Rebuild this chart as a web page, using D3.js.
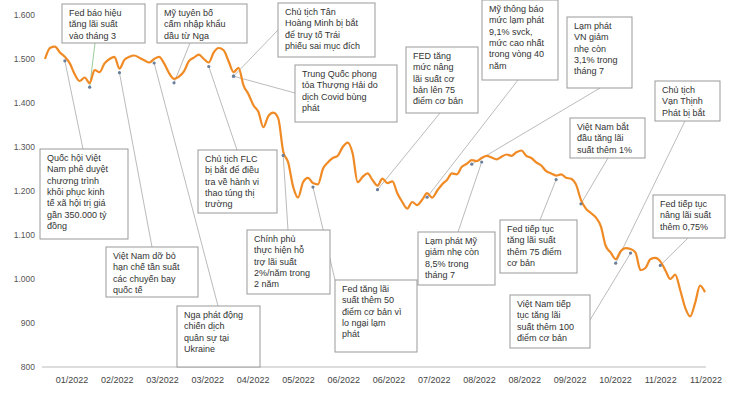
<!DOCTYPE html>
<html>
<head>
<meta charset="utf-8">
<script src="https://cdn.jsdelivr.net/npm/d3@7"></script>
<style>
  body { margin: 0; background: #fff; }
  text { font-family: "Liberation Sans", Arial, sans-serif; }
</style>
</head>
<body>
<svg id="chart" width="740" height="407"></svg>
<script>
// VN-Index 2022, one value per ~3 trading days
var indexValues = [
  1500, 1525, 1528, 1515, 1505, 1490, 1465, 1450, 1458, 1445, 1475, 1470, 1490, 1500, 1505, 1478,
  1498, 1505, 1508, 1503, 1497, 1492, 1500, 1505, 1490, 1468, 1455, 1460, 1472, 1495, 1503, 1510,
  1500, 1492, 1515, 1525, 1520, 1495, 1470, 1480, 1440, 1420, 1395, 1380, 1345, 1370, 1378, 1365,
  1290, 1265, 1210, 1185, 1220, 1230, 1218, 1215, 1250, 1265, 1275, 1280, 1300, 1310, 1285, 1220,
  1232, 1240, 1225, 1212, 1228, 1218, 1222, 1195, 1175, 1160, 1175, 1168, 1180, 1195, 1185, 1200,
  1215, 1225, 1240, 1238, 1255, 1262, 1270, 1268, 1275, 1280, 1276, 1272, 1278, 1283, 1280, 1288,
  1292, 1280, 1275, 1265, 1258, 1245, 1240, 1235, 1238, 1230, 1228, 1215, 1180, 1160, 1150, 1140,
  1120, 1075, 1060, 1045, 1063, 1070, 1068, 1060, 1020, 1025, 1045, 1048, 1040, 1020, 1000, 1010,
  975, 935, 915, 945, 985, 970
];
var yTicks = [800, 900, 1000, 1100, 1200, 1300, 1400, 1500, 1600];
var xTickLabels = ["01/2022", "02/2022", "03/2022", "03/2022", "04/2022", "05/2022", "06/2022", "06/2022",
  "07/2022", "08/2022", "08/2022", "09/2022", "10/2022", "11/2022", "11/2022"];

// notes: text lines, series index of the event, box [x, y, w, h], leader start [x, y]
var notes = [
  { t: ["Fed báo hiệu", "tăng lãi suất", "vào tháng 3"], i: 9, box: [62, 4, 83, 39], from: [95, 43], c: "#9c9" },
  { t: ["Mỹ tuyên bố", "cấm nhập khẩu", "dầu từ Nga"], i: 26, box: [157, 4, 90, 39], from: [190, 43] },
  { t: ["Chủ tịch Tân", "Hoàng Minh bị bắt", "để truy tố Trái", "phiếu sai mục đích"], i: 38, box: [278, 3, 97, 54], from: [278, 30] },
  { t: ["Trung Quốc phong", "tỏa Thượng Hải do", "dịch Covid bùng", "phát"], i: 38, box: [295, 65, 102, 57], from: [295, 93] },
  { t: ["FED tăng", "mức nâng", "lãi suất cơ", "bản lên 75", "điểm cơ bản"], i: 67, box: [406, 47, 72, 66], from: [440, 113] },
  { t: ["Mỹ thông báo", "mức lạm phát", "9,1% svck,", "mức cao nhất", "trong vòng 40", "năm"], i: 77, box: [482, 0, 76, 80], from: [518, 80] },
  { t: ["Lạm phát", "VN giảm", "nhẹ còn", "3,1% trong", "tháng 7"], i: 86, box: [567, 17, 65, 71], from: [600, 88] },
  { t: ["Chủ tịch", "Vạn Thịnh", "Phát bị bắt"], i: 115, box: [655, 81, 65, 40], from: [685, 121] },
  { t: ["Việt Nam bắt", "đầu tăng lãi", "suất thêm 1%"], i: 108, box: [570, 118, 75, 40], from: [608, 158] },
  { t: ["Fed tiếp tục", "nâng lãi suất", "thêm 0,75%"], i: 124, box: [653, 195, 72, 43], from: [688, 238] },
  { t: ["Việt Nam tiếp", "tục tăng lãi", "suất thêm 100", "điểm cơ bản"], i: 118, box: [510, 295, 80, 53], from: [590, 320] },
  { t: ["Fed tiếp tục", "tăng lãi suất", "thêm 75 điểm", "cơ bản"], i: 103, box: [500, 220, 77, 53], from: [540, 220] },
  { t: ["Lạm phát Mỹ", "giảm nhẹ còn", "8,5% trong", "tháng 7"], i: 88, box: [418, 232, 77, 53], from: [458, 232] },
  { t: ["Fed tăng lãi", "suất thêm 50", "điểm cơ bản vì", "lo ngại lạm", "phát"], i: 54, box: [335, 280, 82, 72], from: [335, 280] },
  { t: ["Chính phủ", "thực hiện hỗ", "trợ lãi suất", "2%/năm trong", "2 năm"], i: 48, box: [247, 230, 83, 64], from: [288, 230] },
  { t: ["Chủ tịch FLC", "bị bắt để điều", "tra về hành vi", "thao túng thị", "trường"], i: 33, box: [198, 150, 79, 63], from: [237, 150] },
  { t: ["Quốc hội Việt", "Nam phê duyệt", "chương trình", "khôi phục kinh", "tế xã hội trị giá", "gần 350.000 tỷ", "đồng"], i: 4, box: [40, 149, 88, 90], from: [83, 149] },
  { t: ["Việt Nam dỡ bỏ", "hạn chế tần suất", "các chuyến bay", "quốc tế"], i: 15, box: [106, 247, 92, 50], from: [152, 247] },
  { t: ["Nga phát động", "chiến dịch", "quân sự tại", "Ukraine"], i: 22, box: [177, 306, 83, 61], from: [218, 306] }
];

var svg = d3.select("#chart");
var x = d3.scaleLinear().domain([0, indexValues.length - 1]).range([45, 705]);
var y = d3.scaleLinear().domain([800, 1600]).range([367, 15]);
var xt = d3.scalePoint().domain(d3.range(xTickLabels.length)).range([72, 706]);

svg.append("line").attr("x1", 42).attr("x2", 706).attr("y1", y(800)).attr("y2", y(800))
  .attr("stroke", "#ddd").attr("stroke-width", 2);

svg.selectAll("text.ytick").data(yTicks).join("text").attr("class", "ytick")
  .attr("x", 35).attr("y", function (d) { return y(d) + 3; })
  .attr("text-anchor", "end").attr("font-size", 8.5).attr("fill", "#555")
  .text(function (d) { return d3.format(",")(d).replace(",", "."); });

svg.selectAll("text.xtick").data(xTickLabels).join("text").attr("class", "xtick")
  .attr("x", function (d, i) { return xt(i); }).attr("y", 383)
  .attr("text-anchor", "middle").attr("font-size", 9).attr("fill", "#444")
  .text(function (d) { return d; });

// leader lines under the series
svg.selectAll("line.leader").data(notes).join("line").attr("class", "leader")
  .attr("x1", function (d) { return d.from[0]; }).attr("y1", function (d) { return d.from[1]; })
  .attr("x2", function (d) { return x(d.i); }).attr("y2", function (d) { return y(indexValues[d.i]) + 4; })
  .attr("stroke", function (d) { return d.c || "#bbb"; }).attr("stroke-width", 1);

svg.append("path").datum(indexValues)
  .attr("d", d3.line().x(function (d, i) { return x(i); }).y(function (d) { return y(d); }).curve(d3.curveMonotoneX))
  .attr("fill", "none").attr("stroke", "#F08A24").attr("stroke-width", 2.2);

svg.selectAll("circle.pt").data(notes).join("circle").attr("class", "pt")
  .attr("cx", function (d) { return x(d.i); }).attr("cy", function (d) { return y(indexValues[d.i]) + 4; })
  .attr("r", 1.6).attr("fill", "#6a7f9a");

var g = svg.selectAll("g.note").data(notes).join("g").attr("class", "note");
g.append("rect")
  .attr("x", function (d) { return d.box[0]; }).attr("y", function (d) { return d.box[1]; })
  .attr("width", function (d) { return d.box[2]; }).attr("height", function (d) { return d.box[3]; })
  .attr("fill", "#fff").attr("stroke", "#999").attr("stroke-width", 1);
g.each(function (d) {
  d3.select(this).selectAll("text").data(d.t).join("text")
    .attr("x", d.box[0] + 7).attr("y", function (s, k) { return d.box[1] + 12 + k * 11.3; })
    .attr("font-size", 9).attr("fill", "#333").text(function (s) { return s; });
});
</script>
</body>
</html>
